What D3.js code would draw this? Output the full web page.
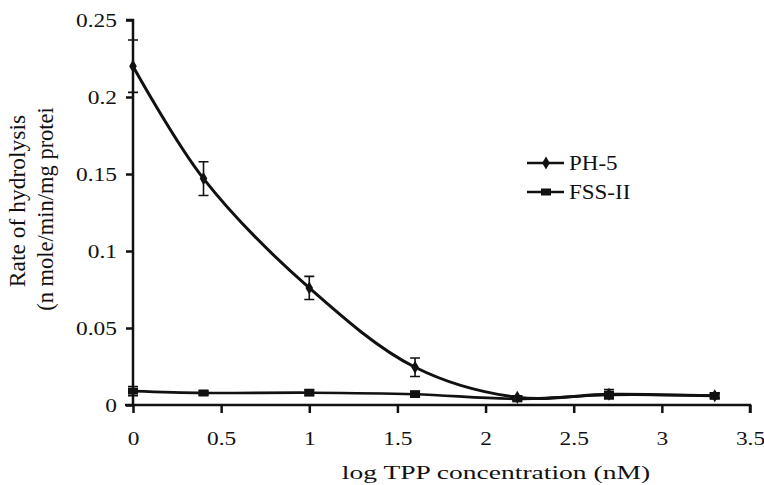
<!DOCTYPE html>
<html>
<head>
<meta charset="utf-8">
<script src="https://cdn.jsdelivr.net/npm/d3@7"></script>
<style>
  body { margin: 0; background: #fff; }
  svg { display: block; }
  text { font-family: "Liberation Serif", "Times New Roman", serif; fill: #111; }
</style>
</head>
<body>
<svg id="chart"></svg>
<script>
// values
var logConc = [0, 0.4, 1, 1.6, 2.18, 2.7, 3.3];
var ph5     = [0.220, 0.147, 0.076, 0.0245, 0.005, 0.007, 0.006];
var ph5Err  = [0.017, 0.011, 0.0075, 0.006, 0.001, 0.003, 0.002];
var fss     = [0.009, 0.0078, 0.008, 0.007, 0.004, 0.0065, 0.006];
var fssErr  = [0.003, 0.0012, 0.002, 0.002, 0.001, 0.002, 0.0015];
var xTicks  = [0, 0.5, 1, 1.5, 2, 2.5, 3, 3.5];
var yTicks  = [0, 0.05, 0.1, 0.15, 0.2, 0.25];
var seriesNames = ["PH-5", "FSS-II"];

var width = 764,
    height = 485;

var x = d3.scaleLinear().domain([0, 3.5]).range([133, 750]);
var y = d3.scaleLinear().domain([0, 0.25]).range([405, 20]);

var svg = d3.select("#chart")
    .attr("width", width)
    .attr("height", height);

var ink = "#111";
var stretch = 1.3; // the figure text is drawn wide

// axes
var xAxis = svg.append("g")
    .attr("transform", "translate(0," + y(0) + ")")
    .call(d3.axisBottom(x).tickValues(xTicks).tickSize(8).tickPadding(0).tickFormat(function(d){ return d; }));
xAxis.select(".domain").attr("d", "M" + (x(0) - 8) + ",0H" + x(3.5) + "V8");
xAxis.selectAll("line, path").attr("stroke", ink).attr("stroke-width", 2.5);
xAxis.selectAll("text")
    .attr("y", 0)
    .attr("dy", 0)
    .attr("fill", ink)
    .style("font-size", "18px")
    .attr("transform", "translate(0,40) scale(" + stretch + ",1)");

var yAxis = svg.append("g")
    .attr("transform", "translate(" + x(0) + ",0)")
    .call(d3.axisLeft(y).tickValues(yTicks).tickSize(7).tickPadding(0).tickFormat(function(d){ return d; }));
yAxis.select(".domain").attr("d", "M-7," + y(0.25) + "H0V" + y(0));
yAxis.selectAll("line, path").attr("stroke", ink).attr("stroke-width", 2.5);
yAxis.selectAll("text")
    .attr("x", 0)
    .attr("dy", "0.35em")
    .attr("fill", ink)
    .style("font-size", "18px")
    .attr("transform", "translate(-16,0) scale(" + stretch + ",1)");

// axis titles
svg.append("text")
    .attr("transform", "translate(496,479) scale(1.45,1)")
    .style("text-anchor", "middle")
    .style("font-size", "19px")
    .text("log TPP concentration (nM)");

svg.append("text")
    .attr("transform", "translate(25,201) rotate(-90)")
    .style("text-anchor", "middle")
    .style("font-size", "23.5px")
    .text("Rate of hydrolysis");
svg.append("text")
    .attr("transform", "translate(53,209) rotate(-90)")
    .style("text-anchor", "middle")
    .style("font-size", "22.5px")
    .text("(n mole/min/mg protei");

// lines
var line = d3.line()
    .x(function(d) { return x(d[0]); })
    .y(function(d) { return y(d[1]); })
    .curve(d3.curveCatmullRom);

var ph5Pts = logConc.map(function(c, i) { return [c, ph5[i], ph5Err[i]]; });
var fssPts = logConc.map(function(c, i) { return [c, fss[i], fssErr[i]]; });

function drawErrors(pts) {
  var g = svg.append("g").attr("stroke", ink).attr("stroke-width", 1.6);
  g.selectAll(".bar").data(pts).enter().append("path")
    .attr("fill", "none")
    .attr("d", function(d) {
      var cx = x(d[0]), t = y(d[1] + d[2]), b = y(d[1] - d[2]);
      return "M" + (cx - 5) + "," + t + "H" + (cx + 5) +
             "M" + cx + "," + t + "V" + b +
             "M" + (cx - 5) + "," + b + "H" + (cx + 5);
    });
}

drawErrors(fssPts);
drawErrors(ph5Pts);

svg.append("path")
    .datum(fssPts)
    .attr("fill", "none")
    .attr("stroke", ink)
    .attr("stroke-width", 2.6)
    .attr("d", line);

svg.append("path")
    .datum(ph5Pts)
    .attr("fill", "none")
    .attr("stroke", ink)
    .attr("stroke-width", 3)
    .attr("d", line);

// markers
var diamond = d3.symbol().type(d3.symbolDiamond).size(50);
svg.selectAll(".ph5m").data(ph5Pts).enter().append("path")
    .attr("transform", function(d) { return "translate(" + x(d[0]) + "," + y(d[1]) + ")"; })
    .attr("d", diamond)
    .attr("fill", ink);

svg.selectAll(".fssm").data(fssPts).enter().append("rect")
    .attr("x", function(d) { return x(d[0]) - 5; })
    .attr("y", function(d) { return y(d[1]) - 3.5; })
    .attr("width", 10)
    .attr("height", 7)
    .attr("fill", ink);

// legend
var legend = svg.append("g").attr("transform", "translate(527,163)");
seriesNames.forEach(function(name, i) {
  var row = legend.append("g").attr("transform", "translate(0," + (i * 29) + ")");
  row.append("line")
      .attr("x1", 0).attr("x2", 37)
      .attr("stroke", ink).attr("stroke-width", 2.6);
  if (i === 0) {
    row.append("path").attr("transform", "translate(19,0)").attr("d", diamond).attr("fill", ink);
  } else {
    row.append("rect").attr("x", 14).attr("y", -3.5).attr("width", 10).attr("height", 7).attr("fill", ink);
  }
  row.append("text")
      .attr("transform", "translate(42,0) scale(1.15,1)")
      .attr("dy", "0.35em")
      .style("font-size", "20px")
      .text(name);
});
</script>
</body>
</html>
